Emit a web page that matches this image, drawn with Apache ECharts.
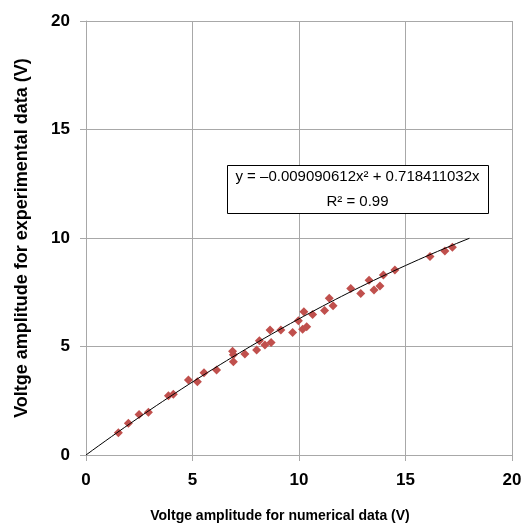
<!DOCTYPE html>
<html>
<head>
<meta charset="utf-8">
<script src="https://cdn.jsdelivr.net/npm/echarts@6/dist/echarts.min.js"></script>
<style>
  html, body { margin: 0; padding: 0; background: #fff; }
  #main { width: 530px; height: 524px; }
</style>
</head>
<body>
<div id="main"></div>
<script>
// 数值数据 (x) 与实验数据 (y)
var numericalV = [1.52, 1.99, 2.49, 2.93, 3.87, 4.10, 4.81, 5.23, 5.54, 6.13,
    6.88, 6.92, 6.92, 7.46, 8.01, 8.14, 8.40, 8.69, 8.64, 9.15, 9.70, 9.97,
    10.23, 10.17, 10.36, 10.64, 11.20, 11.42, 11.60, 12.43, 12.90, 13.29,
    13.52, 13.80, 13.96, 14.50, 16.15, 16.85, 17.20];
var experimentalV = [1.03, 1.46, 1.87, 1.97, 2.73, 2.80, 3.46, 3.38, 3.79, 3.92,
    4.78, 4.62, 4.30, 4.65, 4.84, 5.27, 5.07, 5.18, 5.76, 5.76, 5.65, 6.19,
    6.60, 5.79, 5.91, 6.47, 6.66, 7.22, 6.88, 7.67, 7.44, 8.05,
    7.60, 7.79, 8.29, 8.53, 9.15, 9.40, 9.57];
// 趋势线系数 y = a*x^2 + b*x
var trendA = -0.009090612;
var trendB = 0.718411032;
var trendXMax = 18;
var xTicks = [0, 5, 10, 15, 20];
var yTicks = [0, 5, 10, 15, 20];

var myChart = echarts.init(document.getElementById('main'));

var scatterData = [];
for (var i = 0; i < numericalV.length; i++) {
    scatterData.push([numericalV[i], experimentalV[i]]);
}
var trendData = [];
for (var t = 0; t <= 60; t++) {
    var x = trendXMax * t / 60;
    trendData.push([x, trendA * x * x + trendB * x]);
}

var sans = "'Liberation Sans', Arial, sans-serif";
var gridColor = '#a8a8a8';

var option = {
    backgroundColor: '#ffffff',
    animation: false,
    grid: { left: 86, right: 18, top: 21, bottom: 69, outerBoundsMode: 'none' },
    xAxis: {
        type: 'value',
        min: xTicks[0], max: xTicks[xTicks.length - 1], interval: 5,
        name: 'Voltge amplitude for numerical data (V)',
        nameLocation: 'middle',
        nameGap: 54,
        nameTextStyle: { fontFamily: sans, fontWeight: 'bold', fontSize: 14, color: '#000', padding: [0, 38, 0, 0] },
        axisLine: { onZero: false, lineStyle: { color: gridColor } },
        axisTick: { show: true, length: 6, lineStyle: { color: gridColor } },
        axisLabel: { margin: 17, fontFamily: sans, fontWeight: 'bold', fontSize: 17, color: '#000' },
        splitLine: { show: true, lineStyle: { color: gridColor, width: 1 } }
    },
    yAxis: {
        type: 'value',
        min: yTicks[0], max: yTicks[yTicks.length - 1], interval: 5,
        name: 'Voltge amplitude for experimental data (V)',
        nameLocation: 'middle',
        nameGap: 55,
        nameTextStyle: { fontFamily: sans, fontWeight: 'bold', fontSize: 18, color: '#000' },
        axisLine: { show: true, onZero: false, lineStyle: { color: gridColor } },
        axisTick: { show: true, length: 6, lineStyle: { color: gridColor } },
        axisLabel: { margin: 16, fontFamily: sans, fontWeight: 'bold', fontSize: 17, color: '#000' },
        splitLine: { show: true, lineStyle: { color: gridColor, width: 1 } }
    },
    series: [
        {
            name: 'trend',
            type: 'line',
            data: trendData,
            showSymbol: false,
            smooth: false,
            lineStyle: { color: '#000', width: 1 },
            z: 3
        },
        {
            name: 'data',
            type: 'scatter',
            data: scatterData,
            symbol: 'diamond',
            symbolSize: 9,
            itemStyle: { color: '#c0504d', opacity: 1 },
            z: 2
        }
    ],
    graphic: [
        {
            type: 'rect',
            left: 227, top: 165,
            shape: { width: 261, height: 48 },
            style: { fill: '#fff', stroke: '#000', lineWidth: 1 },
            z: 10
        },
        {
            type: 'text',
            x: 357.5, y: 189,
            style: {
                text: 'y = \u20130.009090612x\u00b2 + 0.718411032x\nR\u00b2 = 0.99',
                fontFamily: sans,
                fontSize: 15,
                lineHeight: 25,
                fill: '#000',
                align: 'center',
                verticalAlign: 'middle'
            },
            z: 11
        }
    ]
};

myChart.setOption(option);
</script>
</body>
</html>
